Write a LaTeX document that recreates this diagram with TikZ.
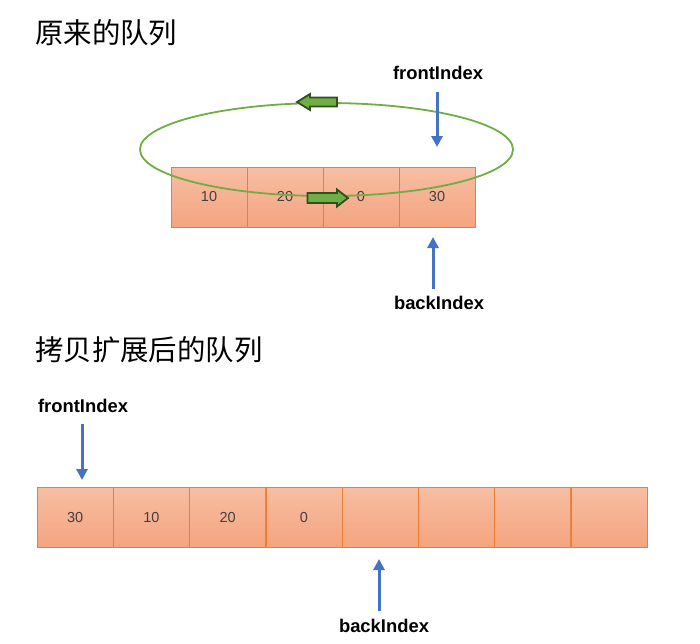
\documentclass[tikz,border=0pt]{standalone}
\usepackage{fontspec}
\setmainfont{Liberation Sans}
\newfontfamily\cjk{Noto Sans CJK SC}
\usetikzlibrary{arrows.meta}
\definecolor{cellfill}{HTML}{F7BEA3}
\definecolor{cellfilldark}{HTML}{F4A47F}
\definecolor{cellline}{HTML}{ED7D31}
\definecolor{ringgreen}{HTML}{70AD47}
\definecolor{darkgreen}{HTML}{2F4F1C}
\definecolor{ptrblue}{HTML}{4472C4}

\begin{document}
\begin{tikzpicture}[x=1pt,y=-1pt,
    cell/.style={draw=cellline,line width=0.8pt,top color=cellfill,bottom color=cellfilldark,
      minimum width=76pt,minimum height=60pt,inner sep=0pt,font=\fontsize{14.5}{16}\selectfont,text=black!75},
    title/.style={font=\cjk\fontsize{28.4}{30}\selectfont,anchor=west,inner sep=0pt},
    idxlabel/.style={font=\fontsize{18.4}{20}\selectfont\bfseries,inner sep=0pt},
    pointer/.style={draw=ptrblue,line width=3pt,-{Triangle[width=11pt,length=11pt]}},
    blockarrow/.style={draw=darkgreen,line width=1.8pt,fill=ringgreen,line join=miter}]
    \useasboundingbox (0,0) rectangle (700,643);

    % original queue
    \node[title] (t1) at (35,33) {原来的队列};
    \foreach \v [count=\i] in {10,20,0,30}
      \node[cell] (a\i) at (171+76*\i-38,197) {\raisebox{-1.5pt}{\v}};
    \draw[ringgreen,line width=1.8pt] (326.5,149.5) ellipse [x radius=186.5pt,y radius=46.5pt];
    % green block arrows
    \draw[blockarrow] (297,102) -- (310,94) -- (310,97.5) -- (337,97.5) -- (337,106.5)
      -- (310,106.5) -- (310,110) -- cycle;
    \draw[blockarrow] (348,198) -- (337,189.5) -- (337,193) -- (307.5,193) -- (307.5,203)
      -- (337,203) -- (337,206.5) -- cycle;

    \node[idxlabel] (front1) at (438,73) {frontIndex};
    \coordinate (f1s) at (437,92);
    \coordinate (f1e) at (437,147);
    \draw[pointer] (f1s) -- (f1e);
    \node[idxlabel] (back1) at (439,303) {backIndex};
    \coordinate (b1s) at (433,289);
    \coordinate (b1e) at (433,237);
    \draw[pointer] (b1s) -- (b1e);

    % expanded copy
    \node[title] (t2) at (35,350) {拷贝扩展后的队列};
    \foreach \v [count=\i] in {30,10,20,0,{},{},{},{}}
      \node[cell] (c\i) at (37+76.25*\i-38.1,517) {\raisebox{-1.5pt}{\v}};

    \node[idxlabel] (front2) at (83,406) {frontIndex};
    \coordinate (f2s) at (82,424);
    \coordinate (f2e) at (82,480);
    \draw[pointer] (f2s) -- (f2e);
    \node[idxlabel] (back2) at (384,626) {backIndex};
    \coordinate (b2s) at (379,611);
    \coordinate (b2e) at (379,559);
    \draw[pointer] (b2s) -- (b2e);
\end{tikzpicture}
\end{document}
